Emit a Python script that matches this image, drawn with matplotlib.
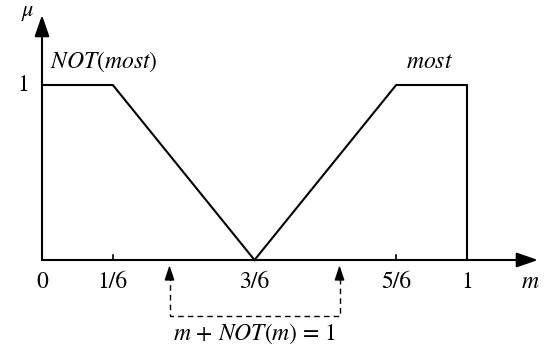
import matplotlib.pyplot as plt

plt.rcParams["mathtext.fontset"] = "stix"
plt.rcParams["font.family"] = "STIXGeneral"

# membership functions of "most" and its negation
not_most_m = [0, 1 / 6, 3 / 6]
not_most_mu = [1, 1, 0]
most_m = [3 / 6, 5 / 6, 1, 1]
most_mu = [0, 1, 1, 0]

tick_pos = [0, 1 / 6, 3 / 6, 5 / 6, 1]
tick_labels = ["0", "1/6", "3/6", "5/6", "1"]

# a pair of complementary points, m and NOT(m)
pair_m = [0.3, 0.7]

fig = plt.figure(figsize=(5.55, 3.46), dpi=100)
ax = fig.add_axes([0, 0, 1, 1])
ax.set_xlim(-42 / 425, 513 / 425)
ax.set_ylim(-86 / 175, 260 / 175)
ax.axis("off")

lw = 1.5
fs = 17

# axes with arrow heads
axis_arrow = dict(arrowstyle="-|>,head_length=1.3,head_width=0.45",
                  lw=lw, color="k", shrinkA=0, shrinkB=0, mutation_scale=10)
ax.annotate("", xy=(0, 1.4), xytext=(0, 0), arrowprops=axis_arrow)
ax.annotate("", xy=(1.167, 0), xytext=(0, 0), arrowprops=axis_arrow)

ax.plot(not_most_m, not_most_mu, color="k", lw=lw, solid_joinstyle="miter")
ax.plot(most_m, most_mu, color="k", lw=lw, solid_joinstyle="miter")

# small ticks on the m axis
for t in (1 / 6, 5 / 6):
    ax.plot([t, t], [0, 0.03], color="k", lw=1.2)

for t, lab in zip(tick_pos, tick_labels):
    ax.text(t, -0.13, lab, ha="center", va="center", fontsize=fs)
ax.text(-0.045, 1, "1", ha="center", va="center", fontsize=fs)
ax.text(1.15, -0.13, r"$m$", ha="center", va="center", fontsize=fs)
ax.text(-0.034, 1.41, r"$\mu$", ha="center", va="center", fontsize=fs - 1)

ax.text(0.02, 1.13, r"$\mathit{NOT}$($\mathit{most}$)", ha="left", va="center",
        fontsize=fs)
ax.text(0.911, 1.13, r"$\mathit{most}$", ha="center", va="center", fontsize=fs)

# dashed bracket joining m and NOT(m)
y_low = -0.32
y_top = -0.085
ax.plot([pair_m[0], pair_m[0], pair_m[1], pair_m[1]],
        [y_top, y_low, y_low, y_top], color="k", lw=1, ls=(0, (4, 3)))
small_arrow = dict(arrowstyle="-|>,head_length=0.9,head_width=0.3",
                   lw=1, color="k", shrinkA=0, shrinkB=0, mutation_scale=10)
for x in pair_m:
    ax.annotate("", xy=(x, -0.03), xytext=(x, y_top), arrowprops=small_arrow)

ax.text(0.5, -0.42, r"$m$ + $\mathit{NOT}$($m$) = 1", ha="center", va="center",
        fontsize=fs)

fig.savefig("out.png", dpi=100)
